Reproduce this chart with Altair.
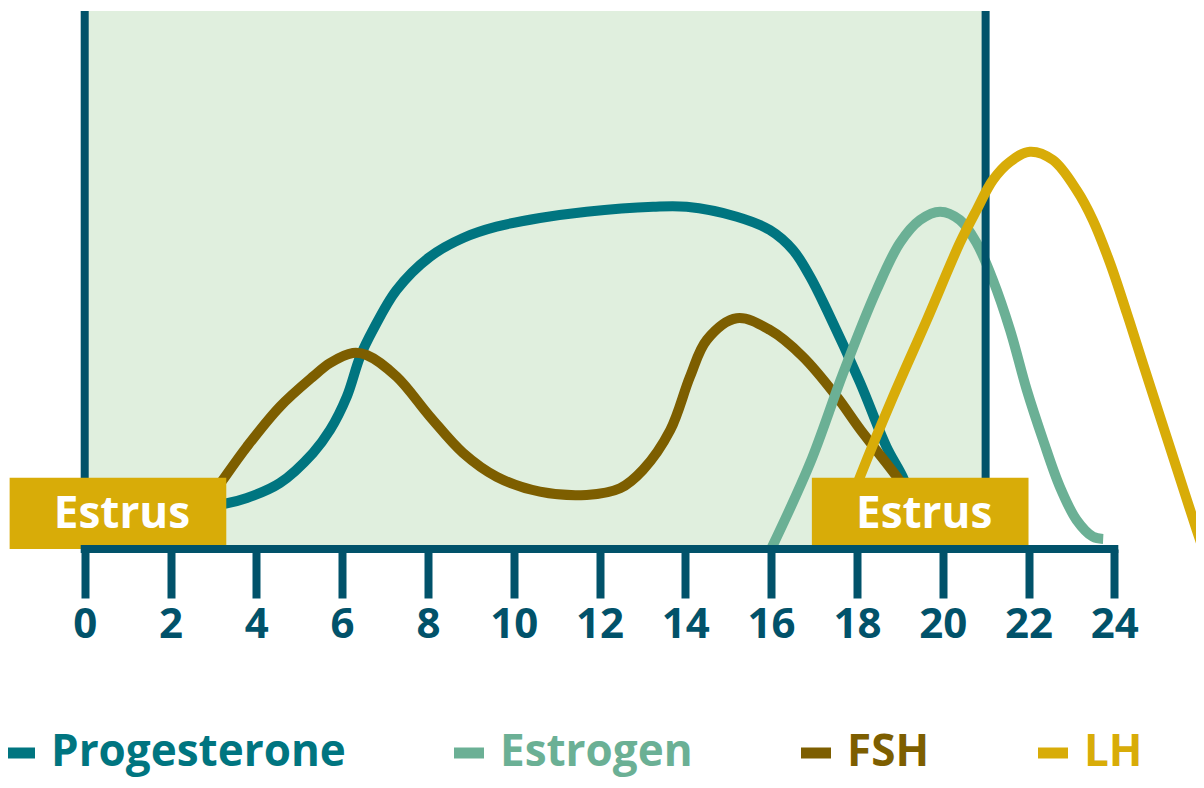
import altair as alt
import pandas as pd

# ---------------- data ----------------
series_names = ["Progesterone", "Estrogen", "FSH", "LH"]
series_colors = ["#007580", "#6BB095", "#7D5E00", "#D8AC08"]

day_ticks = [0, 2, 4, 6, 8, 10, 12, 14, 16, 18, 20, 22, 24]

prog_day = [3.0, 3.29, 3.78, 4.55, 5.32, 5.72, 6.11, 6.42, 6.72, 7.27, 8.05, 8.82, 9.60,
            10.61, 11.70, 13.25, 14.03, 15.20, 15.97, 16.51, 16.91, 17.30, 18.07, 18.69, 19.07, 19.2]
prog_lvl = [8.2, 8.46, 9.48, 12.27, 17.84, 22.12, 28.31, 35.74, 40.71, 48.14, 54.33, 57.81, 59.91,
            61.52, 62.70, 63.62, 63.62, 61.77, 59.29, 55.58, 50.61, 44.42, 31.0, 19.0, 13.38, 10.5]

fsh_day = [3.0, 3.22, 3.78, 4.55, 5.32, 5.72, 6.25, 6.57, 7.27, 8.05, 8.82, 9.60, 10.61, 11.70,
           12.48, 13.01, 13.65, 14.11, 14.50, 15.20, 15.97, 16.74, 17.53, 18.07, 18.93, 19.05]
fsh_lvl = [10.3, 12.83, 19.01, 26.45, 32.03, 34.57, 36.43, 36.06, 32.03, 24.59, 17.84, 13.44, 10.65, 10.04,
           11.28, 14.68, 22.12, 32.03, 38.85, 42.88, 40.71, 35.74, 28.31, 22.3, 13.44, 12.0]

estr_day = [16.0, 16.91, 17.68, 18.46, 19.00, 19.47, 19.94, 20.40, 20.79, 21.17, 21.57, 21.96,
            22.34, 22.73, 23.12, 23.50, 23.74]
estr_lvl = [0.0, 15.99, 32.71, 48.14, 56.88, 61.15, 62.70, 61.15, 56.88, 50.0, 40.71, 29.55,
            20.26, 11.58, 5.39, 2.29, 1.86]

lh_day = [18.0, 18.07, 18.84, 19.63, 20.40, 20.79, 21.17, 21.57, 22.03, 22.57, 23.12, 23.50,
          23.90, 24.29, 24.67, 25.07, 25.45, 25.92, 26.2]
lh_lvl = [11.9, 13.38, 28.25, 42.57, 56.88, 63.01, 68.59, 71.99, 73.85, 72.30, 66.73, 61.15,
          53.16, 43.87, 34.4, 24.5, 15.1, 3.53, -3.0]

# shaded cycle period and its boundaries (days)
period_start = [0]
period_end = [21]
period_top = 100
boundary_days = [0, 21]

# estrus periods (days)
estrus_start = [-1.75, 16.95]
estrus_end = [3.3, 22.0]
estrus_label = ["Estrus", "Estrus"]
estrus_level = 13.25

axis_start, axis_end = 0, 24

# ---------------- styling ----------------
DARK = "#01526A"
GREEN = "#E0EFDE"
GOLD = "#D8AC08"
FONT = "Open Sans"

x_scale = alt.Scale(domain=[-1.788, 25.904], nice=False, zero=False)
y_scale = alt.Scale(domain=[-42.94, 100.56], nice=False, zero=False)

X_AXIS = alt.Axis(values=day_ticks, offset=-231, domain=False, grid=False,
                  tickSize=49, tickWidth=8, tickColor=DARK,
                  labelFont=FONT, labelFontWeight="bold", labelFontSize=42,
                  labelColor=DARK, labelPadding=39, labelBaseline="alphabetic",
                  labelFlush=False, labelOverlap=False, title=None)

label_expr = ("datum.label === 'Progesterone' ? '%s' : datum.label === 'Estrogen' ? '%s' : "
              "datum.label === 'FSH' ? '%s' : '%s'") % tuple(series_colors)

LEGEND = alt.Legend(orient="none", legendX=-10, legendY=723, direction="horizontal",
                    title=None, symbolType="stroke", symbolSize=900, symbolStrokeWidth=11,
                    labelFont=FONT, labelFontWeight="bold", labelFontSize=44,
                    labelLimit=600, labelOffset=9, columnPadding=86, padding=0,
                    labelColor=alt.ExprRef(expr=label_expr))

color_enc = alt.Color("series:N", scale=alt.Scale(domain=series_names, range=series_colors),
                      legend=LEGEND)

# ---------------- tables ----------------
rows = []
for name, xs, ys in [("Progesterone", prog_day, prog_lvl), ("FSH", fsh_day, fsh_lvl),
                     ("Estrogen", estr_day, estr_lvl), ("LH", lh_day, lh_lvl)]:
    for i, (xv, yv) in enumerate(zip(xs, ys)):
        rows.append({"series": name, "day": xv, "level": yv, "idx": i})
lines_df = pd.DataFrame(rows)

shade_df = pd.DataFrame({"s": period_start, "e": period_end, "b": [0], "t": [period_top]})
bound_df = pd.DataFrame({"d": boundary_days, "b": [0] * len(boundary_days),
                         "t": [period_top] * len(boundary_days)})
estrus_df = pd.DataFrame({"s": estrus_start, "e": estrus_end, "label": estrus_label,
                          "b": [0, 0], "t": [estrus_level, estrus_level]})
estrus_df["mid"] = (estrus_df["s"] + estrus_df["e"]) / 2
estrus_df["ty"] = 3.9
axis_df = pd.DataFrame({"s": [axis_start], "e": [axis_end], "y": [0]})

# ---------------- layers ----------------
shade = alt.Chart(shade_df).mark_rect(color=GREEN).encode(
    x=alt.X("s:Q", scale=x_scale, axis=X_AXIS), x2="e:Q",
    y=alt.Y("b:Q", scale=y_scale, axis=None), y2="t:Q")

back_lines = alt.Chart(lines_df).transform_filter("datum.series !== 'LH'").mark_line(
    strokeWidth=10, interpolate="catmull-rom", clip=True).encode(
    x=alt.X("day:Q", scale=x_scale, axis=X_AXIS),
    y=alt.Y("level:Q", scale=y_scale, axis=None),
    color=color_enc, order="idx:Q")

bounds = alt.Chart(bound_df).mark_rule(color=DARK, strokeWidth=8).encode(
    x=alt.X("d:Q", scale=x_scale, axis=X_AXIS),
    y=alt.Y("b:Q", scale=y_scale, axis=None), y2="t:Q")

front_lines = alt.Chart(lines_df).transform_filter("datum.series === 'LH'").mark_line(
    strokeWidth=10, interpolate="catmull-rom", clip=True).encode(
    x=alt.X("day:Q", scale=x_scale, axis=X_AXIS),
    y=alt.Y("level:Q", scale=y_scale, axis=None),
    color=color_enc, order="idx:Q")

estrus_box = alt.Chart(estrus_df).mark_rect(color=GOLD).encode(
    x=alt.X("s:Q", scale=x_scale, axis=X_AXIS), x2="e:Q",
    y=alt.Y("b:Q", scale=y_scale, axis=None), y2="t:Q")

estrus_text = alt.Chart(estrus_df).mark_text(
    font=FONT, fontWeight="bold", fontSize=44, color="white",
    align="center", baseline="alphabetic", dx=4).encode(
    x=alt.X("mid:Q", scale=x_scale, axis=X_AXIS),
    y=alt.Y("ty:Q", scale=y_scale, axis=None), text="label:N")

axis_line = alt.Chart(axis_df).mark_rule(color=DARK, strokeWidth=8, strokeCap="square").encode(
    x=alt.X("s:Q", scale=x_scale, axis=X_AXIS), x2="e:Q",
    y=alt.Y("y:Q", scale=y_scale, axis=None))

chart = alt.layer(shade, back_lines, bounds, front_lines, estrus_box, estrus_text, axis_line).properties(
    width=1188, height=772, padding=0, background="white",
    autosize=alt.AutoSizeParams(type="none")
).configure_view(strokeWidth=0)

chart.save("out.html", embed_options={"renderer": "svg", "actions": False})
